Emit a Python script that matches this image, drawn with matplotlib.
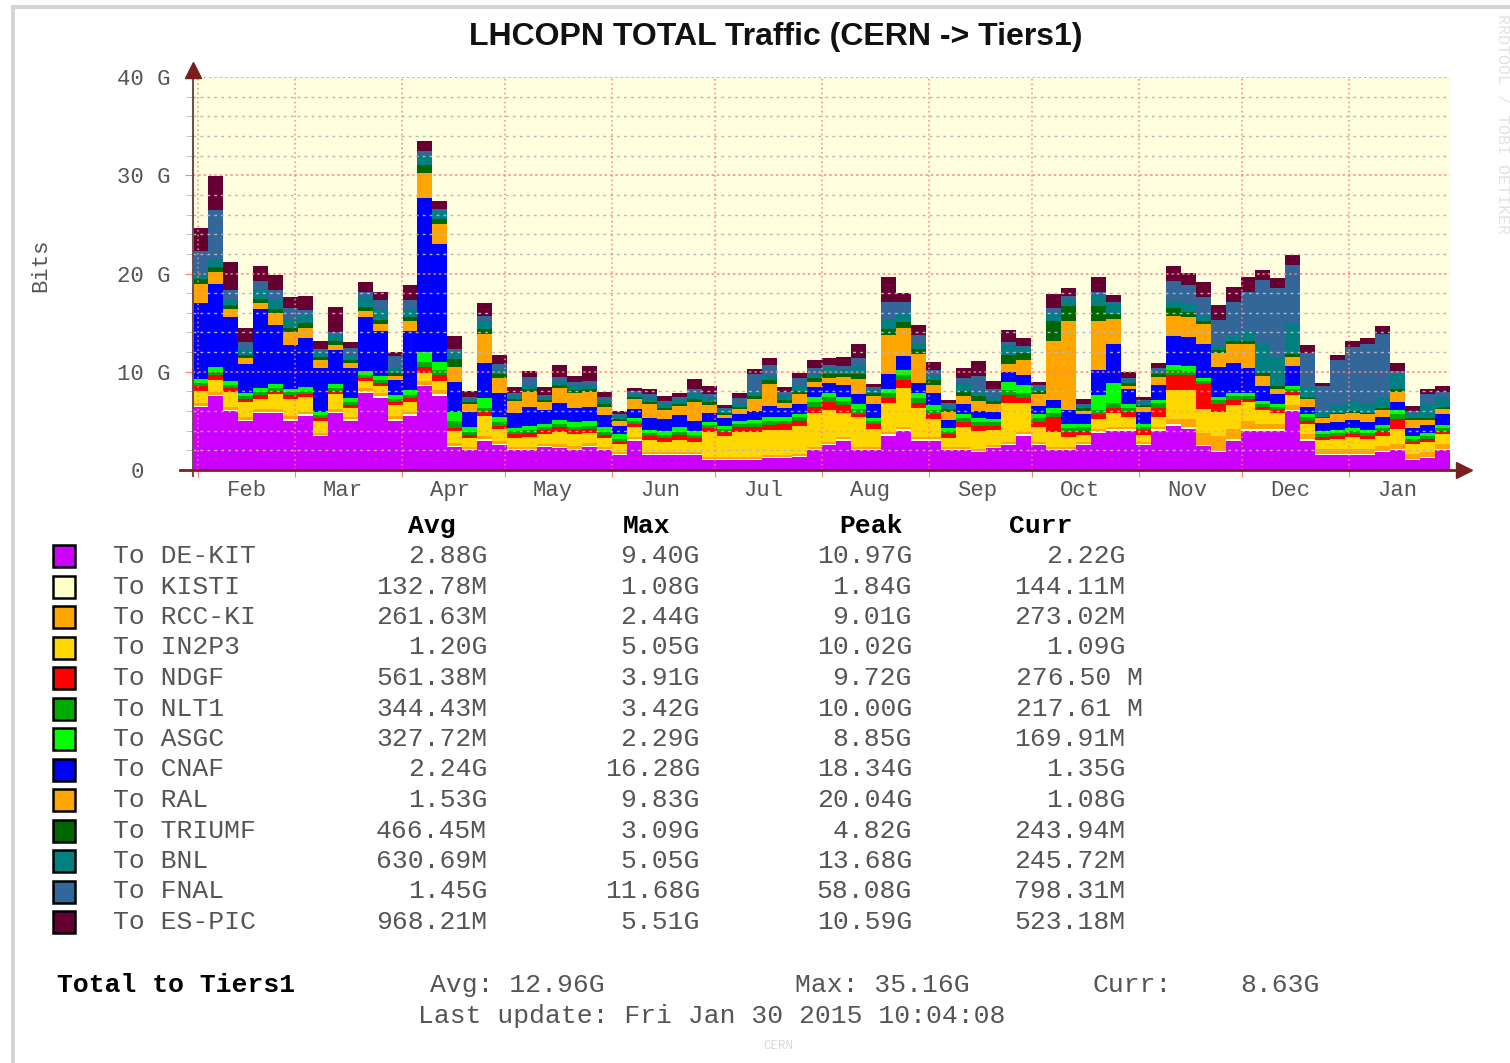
import numpy as np
import pandas as pd
import matplotlib
matplotlib.use("Agg")
import matplotlib.pyplot as plt
import matplotlib.dates as mdates
from matplotlib.patches import Rectangle

# ---- data (Gbit/s, ~4.3 day buckets) ----
de_kit = [6.4, 7.5, 6.0, 5.0, 5.8, 5.8, 5.0, 5.5, 3.5, 5.8,
          5.0, 7.8, 7.3, 5.0, 5.5, 8.5, 7.5, 2.3, 2.0, 3.0,
          2.5, 2.0, 2.0, 2.3, 2.2, 2.0, 2.3, 2.0, 1.5, 3.0,
          1.5, 1.5, 1.5, 1.5, 1.0, 1.0, 1.0, 1.0, 1.2, 1.2,
          1.3, 2.0, 2.5, 3.0, 2.0, 2.0, 3.5, 4.0, 3.0, 3.0,
          2.0, 2.0, 1.8, 2.2, 2.5, 3.5, 2.5, 2.0, 2.0, 2.5,
          3.8, 4.0, 4.0, 2.5, 4.0, 4.5, 4.2, 2.4, 1.8, 3.0,
          4.0, 4.0, 4.0, 6.0, 3.0, 1.5, 1.5, 1.5, 1.5, 1.8,
          2.0, 1.0, 1.2, 2.0]
kisti = [.15, .15, .15, .1, .15, .15, .15, .15, .1, .15,
         .15, .2, .2, .15, .15, .2, .2, .15, .1, .15,
         .15, .1, .15, .15, .15, .15, .15, .1, .1, .15,
         .15, .15, .15, .15, .15, .1, .15, .15, .15, .15,
         .15, .15, .15, .15, .15, .15, .15, .15, .15, .15,
         .1, .15, .15, .15, .15, .15, .15, .15, .15, .1,
         .15, .15, .15, .1, .15, .15, .15, .15, .15, .15,
         .15, .15, .15, .15, .15, .1, .15, .15, .15, .15,
         .15, .1, .15, .15]
rcc_ki = [.3, .3, .3, .3, .3, .3, .3, .3, .2, .3,
          .2, .3, .3, .3, .3, .4, .4, .3, .2, .3,
          .3, .2, .2, .2, .3, .3, .3, .2, .2, .2,
          .2, .2, .2, .2, .2, .2, .2, .2, .2, .2,
          .2, .2, .2, .2, .2, .2, .2, .2, .2, .2,
          .2, .2, .2, .2, .2, .2, .2, .2, .2, .2,
          .2, .2, .2, .2, .2, .5, .8, 1.2, 1.5, 1.0,
          .8, .5, .5, .5, .5, .5, .5, .5, .5, .5,
          .5, .5, .5, .5]
in2p3 = [1.2, 1.2, 1.5, 1.5, 1.0, 1.5, 1.8, 1.5, 1.2, 1.5,
         1.0, .8, .8, 1.2, 1.0, .8, 1.0, 1.2, 1.0, 2.0,
         1.2, 1.0, 1.0, 1.0, 1.2, 1.2, 1.0, 1.0, .8, 1.0,
         1.2, 1.0, 1.2, 1.0, 2.5, 2.2, 2.5, 2.5, 2.5, 2.5,
         2.8, 3.5, 3.3, 2.5, 3.0, 1.8, 3.0, 4.0, 3.0, 1.8,
         1.0, 2.0, 1.8, 1.5, 4.0, 3.0, 1.5, 1.5, 1.0, .8,
         1.0, 1.5, 1.0, .8, 1.0, 3.0, 3.0, 2.5, 2.5, 2.5,
         2.0, 1.5, 1.2, 1.0, 1.0, 1.0, 1.0, 1.2, 1.0, 1.0,
         1.5, 1.0, 1.0, 1.0]
ndgf = [.5, .5, .4, .3, .4, .3, .4, .3, .3, .3,
        .3, .3, .3, .3, .4, .6, .6, .3, .3, .5,
        .3, .4, .4, .4, .5, .4, .4, .3, .3, .3,
        .4, .4, .5, .4, .4, .4, .5, .5, .5, .6,
        .5, .6, .8, .8, .4, .5, .5, .8, .5, .5,
        .4, .5, .5, .4, .8, .5, .5, 1.5, .5, .4,
        .5, .5, .6, .5, 1.0, 1.5, 1.5, 2.5, .8, .5,
        .3, .3, .3, .3, .3, .3, .3, .3, .3, .5,
        1.0, .3, .3, .3]
nlt1 = [.3, .3, .3, .3, .3, .3, .3, .3, .3, .3,
        .3, .3, .3, .3, .3, .5, .5, .7, .3, .4,
        .4, .3, .3, .3, .3, .3, .3, .3, .3, .3,
        .3, .3, .3, .3, .3, .3, .3, .4, .4, .3,
        .4, .5, .5, .4, .5, .3, .5, .5, .5, .5,
        .3, .4, .4, .4, .5, .5, .4, .5, .4, .4,
        .5, .5, .4, .3, .5, .5, .4, .3, .4, .4,
        .3, .3, .3, .3, .4, .3, .3, .3, .3, .3,
        .5, .3, .3, .3]
asgc = [.4, .5, .4, .3, .4, .4, .3, .4, .3, .4,
        .4, .4, .4, .4, .5, 1.0, .8, 1.0, .5, 1.0,
        .5, .3, .4, .3, .4, .5, .5, .5, .5, .3,
        .3, .4, .5, .4, .3, .3, .3, .3, .4, .4,
        .4, .5, .4, .4, .5, .3, .4, .5, .5, .5,
        .3, .5, .4, .3, .8, .8, .5, .5, .4, .3,
        1.5, 2.0, .4, .3, .3, .5, .5, .3, .3, .3,
        .3, .3, .3, .3, .3, .3, .3, .3, .3, .3,
        .5, .3, .3, .3]
cnaf = [7.7, 8.5, 6.5, 3.0, 8.0, 6.0, 4.5, 5.0, 4.5, 3.5,
        3.0, 5.5, 4.5, 1.5, 6.0, 15.7, 12.0, 3.0, 1.5, 3.5,
        2.5, 1.5, 2.0, 1.5, 1.8, 1.5, 1.5, 1.2, .8, 1.0,
        1.2, 1.2, 1.2, 1.0, 1.0, .8, .8, 1.0, 1.2, 1.0,
        1.0, 1.0, 1.0, 1.2, 1.0, 1.5, 1.5, 1.5, 1.0, 1.2,
        .8, 1.0, .8, .8, 1.0, 1.0, .8, .8, 1.5, 1.0,
        2.5, 4.0, 1.5, 1.2, 1.5, 3.0, 3.0, 3.5, 3.0, 3.0,
        2.5, 1.5, 1.0, 2.0, .8, .8, .8, .8, .8, .8,
        .8, .8, .8, 1.2]
ral = [2.0, 1.2, .8, .6, .6, 1.2, 1.3, 1.0, .8, .5,
       .5, .6, .8, .4, 1.0, 2.5, 2.0, 1.5, .8, 3.0,
       1.5, 1.2, 1.5, .8, 1.5, 1.5, 1.5, .8, .5, 1.0,
       1.5, 1.0, 1.0, 2.0, .8, .3, .5, 1.2, 2.2, .5,
       1.0, .5, .5, .8, 1.5, .8, 4.0, 2.8, 3.0, .8,
       .8, .8, 1.0, .8, .8, 1.5, 1.2, 6.0, 9.0, .3,
       5.0, 2.5, .3, .5, .8, 2.0, 2.0, 2.0, 1.5, 2.0,
       2.5, 1.0, .5, 1.0, .8, .5, .8, .8, .8, .8,
       1.0, .8, .5, .5]
triumf = [.5, .5, .4, .3, .5, .4, .4, .5, .3, .4,
          .3, .4, .4, .3, .4, .8, .5, .8, .2, .5,
          .4, .2, .3, .2, .3, .3, .3, .3, .2, .2,
          .2, .2, .2, .3, .3, .2, .2, .3, .4, .3,
          .3, .4, .4, .3, .5, .3, .6, .6, .5, .5,
          .3, .5, .5, .3, 1.0, .8, .3, 2.0, 1.5, .3,
          1.5, .5, .3, .2, .3, .8, .5, .3, .3, .3,
          .3, .3, .3, .3, .2, .1, .2, .2, .2, .2,
          .3, .2, .2, .2]
bnl = [.6, .8, .6, .5, 1.0, 1.0, .8, .8, .5, .6,
       .5, 1.0, 1.0, .6, .8, 1.0, .8, .8, .3, .8,
       .5, .3, .4, .3, .4, .4, .4, .4, .3, .3,
       .5, .4, .4, .5, .5, .3, .4, .4, .5, .5,
       .5, .5, .6, .5, .8, .3, 1.0, .8, .6, .5,
       .3, .8, .5, .4, 1.0, .5, .3, .8, .8, .2,
       1.2, 1.0, .3, .3, .3, .8, .8, .5, .5, .5,
       1.0, 3.0, 3.0, 3.0, 1.0, .5, .8, 1.0, 1.0, 1.0,
       1.5, .5, 1.5, 1.0]
fnal = [2.2, 5.0, 1.0, .8, .8, 1.0, 1.2, .5, .3, .3,
        .8, .5, 1.0, 1.2, 1.0, .5, .3, .3, .2, .5,
        .5, .3, .8, .2, .4, .4, .4, .3, .2, .3,
        .3, .3, .3, .5, .3, .2, .5, 1.8, 1.0, .3,
        .8, .5, .3, .3, .8, .3, 1.8, 1.2, .8, .5,
        .3, .5, 1.5, .8, .3, .2, .3, .5, .3, .2,
        .3, .2, .2, .2, .3, 2.0, 2.0, 2.0, 2.5, 3.5,
        4.0, 6.5, 7.0, 6.0, 3.5, 2.6, 4.5, 5.5, 6.0, 6.5,
        .3, .2, 1.0, .5]
es_pic = [2.4, 3.5, 2.8, 1.5, 1.5, 1.5, 1.2, 1.5, .8, 2.5,
          .6, 1.0, .8, .4, 1.5, 1.0, .8, 1.3, .6, 1.3,
          1.0, .6, .6, .8, 1.2, .6, 1.5, .5, .3, .3,
          .5, .5, .4, 1.0, .8, .3, .5, .5, .8, .5,
          .5, .8, .8, 1.0, 1.5, .3, 2.5, 1.0, 1.0, .8,
          .3, 1.0, 1.5, .8, 1.2, .8, .3, 1.5, .8, .5,
          1.5, .8, .6, .3, .5, 1.5, 1.2, 1.5, 1.5, 1.5,
          1.5, 1.0, 1.0, 1.0, .8, .4, .6, .6, .6, .8,
          .8, .5, .5, .6]

sites = ["DE-KIT", "KISTI", "RCC-KI", "IN2P3", "NDGF", "NLT1", "ASGC",
         "CNAF", "RAL", "TRIUMF", "BNL", "FNAL", "ES-PIC"]
colors = ["#cc00ff", "#ffffcc", "#ffa500", "#ffd700", "#ff0000", "#00aa00",
          "#00ff00", "#0000ff", "#ffa500", "#006600", "#008080", "#336699",
          "#660033"]
avg_txt = ["2.88G", "132.78M", "261.63M", "1.20G", "561.38M", "344.43M",
           "327.72M", "2.24G", "1.53G", "466.45M", "630.69M", "1.45G", "968.21M"]
max_txt = ["9.40G", "1.08G", "2.44G", "5.05G", "3.91G", "3.42G", "2.29G",
           "16.28G", "9.83G", "3.09G", "5.05G", "11.68G", "5.51G"]
peak_txt = ["10.97G", "1.84G", "9.01G", "10.02G", "9.72G", "10.00G", "8.85G",
            "18.34G", "20.04G", "4.82G", "13.68G", "58.08G", "10.59G"]
curr_txt = ["2.22G", "144.11M", "273.02M", "1.09G", "276.50 M", "217.61 M",
            "169.91M", "1.35G", "1.08G", "243.94M", "245.72M", "798.31M", "523.18M"]
y_labels = ["0  ", "10 G", "20 G", "30 G", "40 G"]

series = [de_kit, kisti, rcc_ki, in2p3, ndgf, nlt1, asgc, cnaf, ral, triumf,
          bnl, fnal, es_pic]
for s in series:
    assert len(s) == 84

W, H = 1510, 1063
MONO = "Liberation Mono"
GREY = "#555555"
FS = 19


def fx(px):
    return px / W


def fy(py):
    return 1 - py / H


fig = plt.figure(figsize=(W / 100, H / 100), dpi=100)
fig.patch.set_facecolor("white")

# light frame (top / left) like the rrd image border
fig.add_artist(Rectangle((fx(11), fy(9)), 1, fy(5) - fy(9), transform=fig.transFigure,
                         color="#d4d4d4", lw=0))
fig.add_artist(Rectangle((fx(11), 0), fx(15) - fx(11), fy(5), transform=fig.transFigure,
                         color="#d4d4d4", lw=0))

ax = fig.add_axes([fx(193), fy(470), fx(1450) - fx(193), fy(77) - fy(470)])
ax.set_facecolor("#fffedf")

t0 = pd.Timestamp("2014-01-30 10:04")
t1 = pd.Timestamp("2015-01-30 10:04")
edges = mdates.date2num(pd.date_range(t0, t1, periods=len(de_kit) + 1))
x = edges[:-1]
width = edges[1] - edges[0]

bottom = np.zeros(len(x))
for vals, c in zip(series, colors):
    vals = np.array(vals)
    ax.bar(x, vals, width=width, bottom=bottom, align="edge", color=c,
           linewidth=0, antialiased=False, zorder=1)
    bottom += vals

ax.set_xlim(mdates.date2num(t0), mdates.date2num(t1))
ax.set_ylim(0, 40)

# grids
ax.set_axisbelow(False)
ax.xaxis.set_major_locator(mdates.MonthLocator())
ax.xaxis.set_major_formatter(plt.NullFormatter())
ax.xaxis.set_minor_locator(mdates.MonthLocator(bymonthday=15))
ax.xaxis.set_minor_formatter(mdates.DateFormatter("%b"))
ax.set_yticks([0, 10, 20, 30, 40])
ax.set_yticklabels(y_labels)
ax.set_yticks(np.arange(0, 41, 2), minor=True)

ax.grid(axis="x", which="major", color="#ff7f7f", linestyle=(0, (1, 2)), lw=1.1)
ax.grid(axis="y", which="major", color="#ff7f7f", linestyle=(0, (1.5, 2)), lw=1.1)
ax.grid(axis="y", which="minor", color="#b8b8b8", linestyle=(0, (2, 3)), lw=1)

ax.tick_params(axis="x", which="major", length=5, color="#ff7f7f", direction="out")
ax.tick_params(axis="x", which="minor", length=0, pad=7, labelsize=16,
               labelcolor=GREY)
ax.tick_params(axis="y", which="major", length=6, color="#ff7f7f", pad=10,
               labelsize=16, labelcolor=GREY)
ax.tick_params(axis="y", which="minor", length=5, color="#b8b8b8")
for lab in ax.get_xticklabels(minor=True) + ax.get_yticklabels():
    lab.set_family(MONO)

for sp in ax.spines.values():
    sp.set_visible(False)

# axis lines with arrows
ax.plot([0, 0], [-0.015, 1.0], transform=ax.transAxes, color="#6e5050", lw=1.5,
        clip_on=False, zorder=3)
ax.plot([-0.01, 1.008], [0, 0], transform=ax.transAxes, color="#7a1f1f", lw=2,
        clip_on=False, zorder=3)
ax.plot([0], [1.018], marker="^", ms=11, color="#7a1f1f", transform=ax.transAxes,
        clip_on=False, zorder=4)
ax.plot([1.011], [0], marker=">", ms=11, color="#7a1f1f", transform=ax.transAxes,
        clip_on=False, zorder=4)

# titles
fig.text(fx(776), fy(37), "LHCOPN TOTAL Traffic (CERN -> Tiers1)", ha="center",
         va="center", family="Liberation Sans", weight="bold", size=23, color="#111111")
fig.text(fx(41), fy(265), "Bits", rotation=90, ha="center", va="center",
         family=MONO, size=16, color=GREY)
fig.text(fx(1503), fy(14), "RRDTOOL / TOBI OETIKER", rotation=270, ha="center",
         va="top", family=MONO, size=12, color="#e2e2e2")

# legend table
for head, cx in zip(["Avg", "Max", "Peak", "Curr"], [432, 647, 871, 1041]):
    fig.text(fx(cx), fy(526), head, ha="center", va="center", family=MONO,
             weight="bold", size=FS, color="black")

for k, name in enumerate(sites):
    yy = 556 + 30.5 * k
    fig.add_artist(Rectangle((fx(53), fy(yy + 11)), fx(22), fy(0) - fy(22),
                             transform=fig.transFigure, facecolor=colors[k],
                             edgecolor="black", lw=1.8))
    fig.text(fx(113), fy(yy), "To " + name, ha="left", va="center", family=MONO,
             size=FS, color=GREY)
    fig.text(fx(487), fy(yy), avg_txt[k], ha="right", va="center", family=MONO,
             size=FS, color=GREY)
    fig.text(fx(700), fy(yy), max_txt[k], ha="right", va="center", family=MONO,
             size=FS, color=GREY)
    fig.text(fx(912), fy(yy), peak_txt[k], ha="right", va="center", family=MONO,
             size=FS, color=GREY)
    fig.text(fx(1125) if not curr_txt[k].endswith(" M") else fx(1143), fy(yy),
             curr_txt[k], ha="right", va="center", family=MONO, size=FS, color=GREY)

fig.text(fx(57), fy(985), "Total to Tiers1", ha="left", va="center", family=MONO,
         weight="bold", size=FS, color="black")
fig.text(fx(430), fy(985), "Avg: 12.96G", ha="left", va="center", family=MONO,
         size=FS, color=GREY)
fig.text(fx(795), fy(985), "Max: 35.16G", ha="left", va="center", family=MONO,
         size=FS, color=GREY)
fig.text(fx(1093), fy(985), "Curr:", ha="left", va="center", family=MONO,
         size=FS, color=GREY)
fig.text(fx(1320), fy(985), "8.63G", ha="right", va="center", family=MONO,
         size=FS, color=GREY)
fig.text(fx(418), fy(1016), "Last update: Fri Jan 30 2015 10:04:08", ha="left",
         va="center", family=MONO, size=FS, color=GREY)
fig.text(fx(778), fy(1046), "CERN", ha="center", va="center", family=MONO,
         size=9, color="#d8d8d8")

fig.savefig("out.png", dpi=100)
